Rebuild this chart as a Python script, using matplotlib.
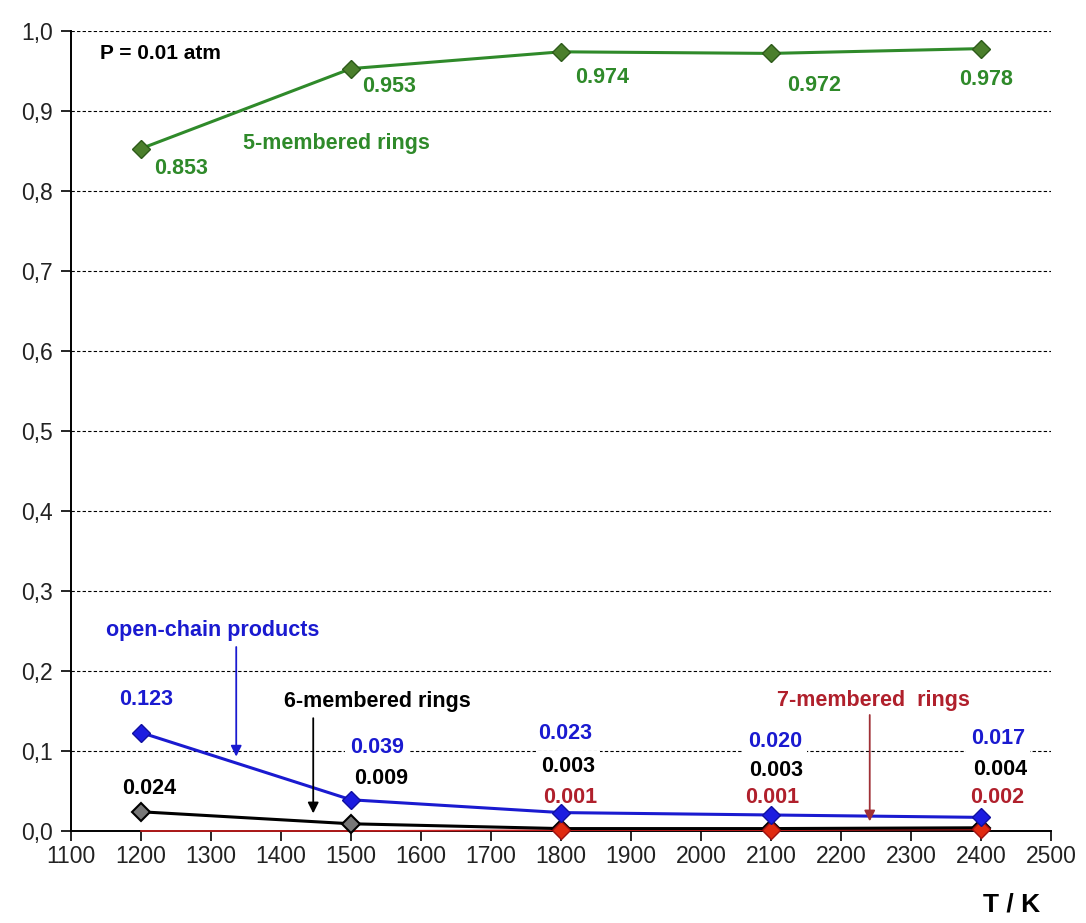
import matplotlib
matplotlib.use("Agg")
import matplotlib.pyplot as plt
from matplotlib.ticker import FuncFormatter, MultipleLocator

plt.rcParams['font.family'] = ['Liberation Sans', 'DejaVu Sans']

# Data (fraction vs temperature)
temps = [1200, 1500, 1800, 2100, 2400]
five_ring = [0.853, 0.953, 0.974, 0.972, 0.978]
open_chain = [0.123, 0.039, 0.023, 0.020, 0.017]
six_ring = [0.024, 0.009, 0.003, 0.003, 0.004]
seven_ring = [0.000, 0.000, 0.001, 0.001, 0.002]
seven_labelled = [2, 3, 4]  # points that carry a marker/label

# label offsets in pixels from each point (dx, dy)
five_off = [(40, -20), (38, -18), (41, -26), (43, -32), (5, -31)]
open_off = [(5, 33), (26, 52), (4, 79), (4, 73), (17, 79)]
six_off = [(8, 23), (30, 45), (7, 62), (5, 58), (19, 58)]
seven_off = [(9, 33), (1, 33), (16, 32)]

green = '#2f8a2a'
blue = '#1a1ad0'
red = '#cc1f1f'
dkred = '#b0202c'

fig = plt.figure(figsize=(10.86, 9.23), dpi=100)
ax = fig.add_axes([0.0654, 0.0997, 0.9024, 0.8667])

ax.plot(temps, seven_ring, color=red, lw=1.2, zorder=3, clip_on=False)
ax.plot(temps, six_ring, color='black', lw=2.2, marker='D', ms=9,
        mfc='#777777', mec='black', mew=1.5, zorder=4, clip_on=False)
ax.plot([temps[i] for i in seven_labelled], [seven_ring[i] for i in seven_labelled],
        ls='none', marker='D', ms=9, mfc='#e02a10', mec='#a01010', zorder=5,
        clip_on=False)
ax.plot(temps, open_chain, color=blue, lw=2.2, marker='D', ms=9,
        mfc='#1c1ce0', mec='#1010a0', zorder=6)
ax.plot(temps, five_ring, color=green, lw=2.2, marker='D', ms=9,
        mfc='#4b7f2c', mec='#2d5a1a', zorder=6)

ax.set_xlim(1100, 2500)
ax.set_ylim(0, 1.0)
ax.xaxis.set_major_locator(MultipleLocator(100))
ax.yaxis.set_major_locator(MultipleLocator(0.1))
ax.yaxis.set_major_formatter(FuncFormatter(lambda v, p: f"{v:.1f}".replace('.', ',')))
ax.tick_params(axis='both', direction='out', length=7, width=1.2, labelsize=16.5,
               colors='black', labelcolor='#222222')
ax.tick_params(axis='x', pad=3)
ax.tick_params(axis='y', pad=6)
for s in ['top', 'right']:
    ax.spines[s].set_visible(False)
for s in ['left', 'bottom']:
    ax.spines[s].set_linewidth(1.4)
ax.grid(axis='y', color='black', ls=(0, (3, 2)), lw=0.8)
ax.set_axisbelow(True)

lbl = dict(textcoords='offset pixels', ha='center', va='center', fontsize=15.5,
           fontweight='bold', zorder=2,
           bbox=dict(boxstyle='square,pad=0.25', fc='white', ec='none'))

for x, v, off in zip(temps, five_ring, five_off):
    ax.annotate(f"{v:.3f}", (x, v), xytext=off, color=green, **lbl)
for x, v, off in zip(temps, open_chain, open_off):
    ax.annotate(f"{v:.3f}", (x, v), xytext=off, color=blue, **lbl)
for x, v, off in zip(temps, six_ring, six_off):
    ax.annotate(f"{v:.3f}", (x, v), xytext=off, color='black', **lbl)
for i, off in zip(seven_labelled, seven_off):
    ax.annotate(f"{seven_ring[i]:.3f}", (temps[i], seven_ring[i]), xytext=off,
                color=dkred, **lbl)

# series names and arrows
ax.text(1141, 0.9725, "P = 0.01 atm", fontsize=15, fontweight='bold',
        ha='left', va='center', color='black')
ax.text(1479, 0.859, "5-membered rings", fontsize=15.5, fontweight='bold',
        ha='center', va='center', color=green)
ax.text(1303, 0.251, "open-chain products", fontsize=15.5, fontweight='bold',
        ha='center', va='center', color=blue)
ax.text(1538, 0.162, "6-membered rings", fontsize=15.5, fontweight='bold',
        ha='center', va='center', color='black')
ax.text(2247, 0.163, "7-membered  rings", fontsize=15.5, fontweight='bold',
        ha='center', va='center', color=dkred)

arr = dict(arrowstyle='-|>', lw=1.3, mutation_scale=16, shrinkA=0, shrinkB=0)
ax.annotate("", xy=(1336, 0.093), xytext=(1336, 0.230),
            arrowprops=dict(color=blue, **arr), zorder=7)
ax.annotate("", xy=(1446, 0.022), xytext=(1446, 0.141),
            arrowprops=dict(color='black', **arr), zorder=7)
ax.annotate("", xy=(2241, 0.012), xytext=(2241, 0.145),
            arrowprops=dict(color='#a03036', **arr), zorder=7)

fig.text(0.931, 0.02, "T / K", fontsize=19, fontweight='bold', ha='center', va='center')

fig.savefig("out.png", dpi=100)
